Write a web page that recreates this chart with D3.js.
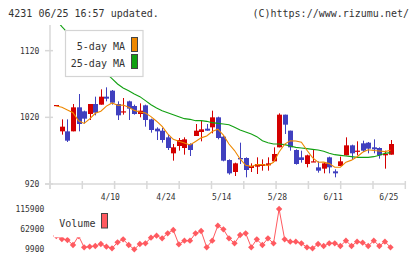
<!DOCTYPE html>
<html><head><meta charset="utf-8">
<script src="https://cdn.jsdelivr.net/npm/d3@7"></script>
<style>html,body{margin:0;padding:0;background:#fff;}svg{display:block}</style>
</head><body><svg id="c" width="420" height="259"></svg>
<script>
const opens  = [1037.5,999,999,999,1035,1029,1025,1040,1039,1051,1060,1040,1028,1044,1037,1025,1038,1017,1003,1000,990,966,977,974,980,992,998,1003,1005,1020,991,956,938,959,959,944,946,947,948,954,975,1024,1000,971,960,950,953,945,943,960,939,947,963,978,969,981,982,975,974,963,964];
const highs  = [1038.5,1017,1017,1040,1055,1030,1040,1051,1062,1065,1061,1044,1049,1045,1039,1041,1039,1018,1005,1004,994,980,989,990,981,1010,1015,1010,1030,1021,992,957,952,982,960,951,960,957,960,975,1026,1024,1000,972,970,964,971,954,952,961,942,961,990,979,984,985,983,987,975,970,986];
const lows   = [1037.5,994,983,999,999,1011,1016,1023,1039,1044,1039,1016,1024,1016,1024,1020,1006,997,986,982,971,955,970,964,962,992,984,1000,996,987,954,934,932,950,930,938,935,940,940,954,975,995,970,949,952,945,953,937,936,936,930,947,963,956,963,968,966,966,958,943,964];
const closes = [1038.5,1006,985,1035,1010,1018,1040,1027,1051,1048,1042,1023,1029,1033,1025,1030,1016,1001,999,986,974,975,986,987,971,1000,1002,1000,1020,989,955,936,951,957,941,947,950,950,951,965,1024,1009,975,950,956,963,954,940,951,945,936,954,978,966,970,970,973,972,963,965,980];
const ma5  = [1037,1035,1031,1027,1014.8,1010.8,1017.6,1026,1029.2,1036.8,1041.6,1038.2,1038.6,1035,1030.4,1028,1026.6,1021,1014.2,1006.4,995.2,987,984,981.6,978.6,983.8,989.2,992,998.6,1002.2,993.2,980,970.2,957.6,948,946.4,949.2,949,947.8,952.6,968,979.8,984.8,984.6,982.8,970.6,959.6,952.6,952.8,950.6,945.2,945.2,952.8,955.8,960.8,967.6,971.4,970.2,969.6,968.6,970.6];
const ma25 = [1166,1156,1147,1138,1129,1120,1112,1103,1095,1086,1078,1070,1064,1060,1055,1051,1045,1039,1034,1030,1027,1024,1021,1018,1017,1015,1015,1014,1012,1011,1010,1009,1005,1001,998,995,991,985,982,980,980,979,977,975,974,973,972,971,969,966,964,963,962,961,960,960,960,961,963,966,967];
const volumes = [44880,36930,34280,21030,44880,14850,16610,18380,23680,16610,12200,28100,36050,21030,9550,23680,25450,40460,45760,38700,51950,60780,22800,32510,32510,51950,58130,14850,32510,72260,62550,38700,25450,47530,51950,14850,36050,21030,38700,25450,116430,36050,29860,29860,25450,14850,12200,23680,18380,25450,25450,18380,32510,18380,29860,27210,18380,32510,18380,29860,14850];
const dateTickIndex = [10,20,30,40,50,60];
const dateTickLabels = ["4/10","4/24","5/14","5/28","6/11","6/25"];
const priceTicks = [920,1020,1120];
const volumeTicks = [9900,62900,115900];
const headerLeft = "4231 06/25 16:57 updated.";
const headerRight = "(C)https://www.rizumu.net/";
const legendLabels = ["5-day MA","25-day MA"];

const FONT = "DejaVu Sans Mono, monospace";
const svg = d3.select("#c");
svg.append("rect").attr("width",420).attr("height",259).attr("fill","#fff");

const idx = d3.range(closes.length);
const x = d3.scaleLinear().domain([0,60]).range([56.3,390.5]);
const y = d3.scaleLinear().domain([920,1158.5]).range([184,25]);
const yv = d3.scaleLinear().domain([9900,115900]).range([249.2,209.2]);

const RED="#d40000", BLUE="#4040bf", ORANGE="#ee8800", GREEN="#11a011", GRID="#d8d8d8", TXT="#333", VOL="#ff5a60";

// header
svg.append("text").attr("x",8.3).attr("y",16.5).attr("font-family",FONT).attr("font-size",10)
  .attr("fill",TXT).text(headerLeft);
svg.append("text").attr("x",409).attr("y",16.5).attr("text-anchor","end").attr("font-family",FONT).attr("font-size",10)
  .attr("fill",TXT).text(headerRight);

// axes lines
const g = svg.append("g");
g.append("line").attr("x1",50).attr("x2",50).attr("y1",25).attr("y2",189).attr("stroke",GRID).attr("stroke-width",1.5);
g.append("line").attr("x1",45).attr("x2",406).attr("y1",184).attr("y2",184).attr("stroke",GRID).attr("stroke-width",1.5);
g.selectAll("line.xt").data(d3.range(12)).join("line").attr("class","xt")
  .attr("x1",k=>50+k*32.3).attr("x2",k=>50+k*32.3).attr("y1",181).attr("y2",189)
  .attr("stroke",GRID).attr("stroke-width",1.5);
g.selectAll("line.yt").data(priceTicks).join("line").attr("class","yt")
  .attr("x1",45).attr("x2",53).attr("y1",d=>y(d)).attr("y2",d=>y(d)).attr("stroke",GRID).attr("stroke-width",1.5);

// price axis labels via d3 axis
const ya = svg.append("g").attr("transform","translate(50,0)")
  .call(d3.axisLeft(y).tickValues(priceTicks).tickSize(0).tickPadding(10.7).tickFormat(d3.format("d")));
ya.select(".domain").remove();
ya.selectAll("text").attr("font-family",FONT).attr("font-size",8).attr("fill",TXT);

// clip
svg.append("clipPath").attr("id","pc").append("rect").attr("x",50).attr("y",25).attr("width",357).attr("height",159);
const pg = svg.append("g").attr("clip-path","url(#pc)");

// candles
const cg = pg.append("g");
cg.selectAll("line.w").data(idx).join("line").attr("class","w")
  .attr("x1",i=>Math.round(x(i))+0.5).attr("x2",i=>Math.round(x(i))+0.5)
  .attr("y1",i=>y(highs[i])).attr("y2",i=>y(lows[i]))
  .attr("stroke",i=>closes[i]>=opens[i]?RED:BLUE).attr("stroke-width",1);
cg.selectAll("rect.b").data(idx).join("rect").attr("class","b")
  .attr("x",i=>Math.round(x(i))-2)
  .attr("width",5)
  .attr("y",i=>y(Math.max(opens[i],closes[i])))
  .attr("height",i=>Math.max(1.2,Math.abs(y(opens[i])-y(closes[i]))))
  .attr("fill",i=>closes[i]>=opens[i]?RED:BLUE);

// MA lines
const line5 = d3.line().x(i=>x(i)).y(i=>y(ma5[i]));
const line25 = d3.line().x(i=>x(i)).y(i=>y(ma25[i]));
pg.append("path").attr("d",line25(idx)).attr("fill","none").attr("stroke",GREEN).attr("stroke-width",1.1);
pg.append("path").attr("d",line5(idx)).attr("fill","none").attr("stroke",ORANGE).attr("stroke-width",1.1);

// legend
const lg = svg.append("g");
lg.append("rect").attr("x",65.5).attr("y",30.5).attr("width",77.5).attr("height",46).attr("fill","#fff").attr("stroke","#d4d4d4").attr("stroke-width",1.2);
lg.selectAll("text").data(legendLabels).join("text")
  .attr("x",125).attr("y",(d,k)=>50+k*16.7).attr("text-anchor","end")
  .attr("font-family",FONT).attr("font-size",10).attr("fill",TXT).text(d=>d);
lg.selectAll("rect.sw").data([ORANGE,GREEN]).join("rect").attr("class","sw")
  .attr("x",131.5).attr("y",(d,k)=>37.5+k*17).attr("width",6).attr("height",14)
  .attr("fill",d=>d).attr("stroke","#444").attr("stroke-width",1);

// date labels
svg.selectAll("text.xl").data(dateTickIndex).join("text").attr("class","xl")
  .attr("x",i=>x(i)-1.7).attr("y",200).attr("text-anchor","middle")
  .attr("font-family",FONT).attr("font-size",8).attr("fill",TXT)
  .text((d,k)=>dateTickLabels[k]);

// volume axis labels
const va = svg.append("g").attr("transform","translate(50,0)")
  .call(d3.axisLeft(yv).tickValues(volumeTicks).tickSize(0).tickPadding(5.7).tickFormat(d3.format("d")));
va.select(".domain").remove();
va.selectAll("text").attr("font-family",FONT).attr("font-size",8).attr("fill",TXT);

// volume line + diamonds
const vg = svg.append("g");
vg.append("path").attr("d",d3.line().x(i=>x(i)).y(i=>yv(volumes[i]))(idx))
  .attr("fill","none").attr("stroke",VOL).attr("stroke-width",1);
const sym = d3.symbol().type(d3.symbolSquare).size(20);
vg.selectAll("path.m").data(idx).join("path").attr("class","m")
  .attr("d",sym).attr("transform",i=>`translate(${x(i)},${yv(volumes[i])}) rotate(45)`)
  .attr("fill",VOL);

// volume legend
const vl = svg.append("g");
vl.append("rect").attr("x",54).attr("y",204).attr("width",58).attr("height",33.3).attr("fill","#fff");
vl.append("text").attr("x",59.3).attr("y",227).attr("font-family",FONT).attr("font-size",10).attr("fill",TXT).text("Volume");
vl.append("rect").attr("x",101.5).attr("y",213.5).attr("width",6).attr("height",14.5)
  .attr("fill",VOL).attr("stroke","#444").attr("stroke-width",1);
</script></body></html>
